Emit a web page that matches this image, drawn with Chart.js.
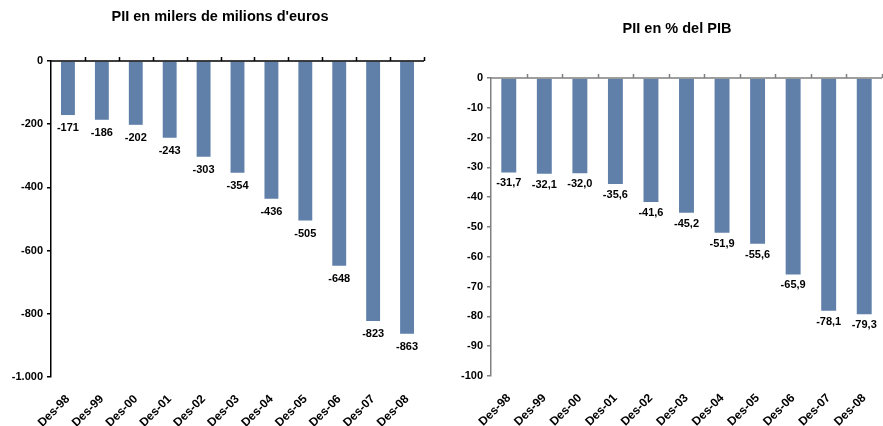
<!DOCTYPE html>
<html>
<head>
<meta charset="utf-8">
<script src="https://cdn.jsdelivr.net/npm/chart.js@4/dist/chart.umd.min.js"></script>
<style>
  body { margin: 0; background: #fff; }
  .box { position: absolute; top: 0; height: 426px; }
  #left { left: 0; width: 440px; }
  #right { left: 440px; width: 443px; }
</style>
</head>
<body>
<div class="box" id="left"><canvas id="c1" width="440" height="426"></canvas></div>
<div class="box" id="right"><canvas id="c2" width="443" height="426"></canvas></div>
<script>
const categories = ['Des-98', 'Des-99', 'Des-00', 'Des-01', 'Des-02', 'Des-03', 'Des-04', 'Des-05', 'Des-06', 'Des-07', 'Des-08'];
const piiMilers = [-171, -186, -202, -243, -303, -354, -436, -505, -648, -823, -863];
const piiPercent = [-31.7, -32.1, -32.0, -35.6, -41.6, -45.2, -51.9, -55.6, -65.9, -78.1, -79.3];
const leftTicks = { min: -1000, max: 0, step: 200 };
const rightTicks = { min: -100, max: 0, step: 10 };

const FONT = '"Liberation Sans", Arial, sans-serif';
const BAR = '#6080aa';

function fmtThousands(v) {
  const s = Math.abs(v).toString().replace(/\B(?=(\d{3})+(?!\d))/g, '.');
  return (v < 0 ? '-' : '') + s;
}

// linia del zero amb marques cap amunt, etiquetes de valor i títol
const extras = {
  id: 'extras',
  afterDatasetsDraw(chart, args, opts) {
    const ctx = chart.ctx;
    const x = chart.scales.x, y = chart.scales.y;
    const y0 = y.getPixelForValue(0);
    const w = (x.right - x.left) / categories.length;
    ctx.save();
    ctx.strokeStyle = opts.axisColor;
    ctx.lineWidth = 1.5;
    ctx.beginPath();
    ctx.moveTo(x.left, y0);
    ctx.lineTo(x.right, y0);
    for (let i = 1; i <= categories.length; i++) {
      const px = Math.round(x.getPixelForValue(i - 1) + w / 2) + 0.5;
      ctx.moveTo(px, y0);
      ctx.lineTo(px, y0 - 4);
    }
    ctx.stroke();

    ctx.fillStyle = '#000';
    ctx.font = 'bold 11px ' + FONT;
    ctx.textAlign = 'center';
    ctx.textBaseline = 'middle';
    const meta = chart.getDatasetMeta(0);
    meta.data.forEach((bar, i) => {
      ctx.fillText(opts.fmt(chart.data.datasets[0].data[i]), bar.x, bar.y + opts.labelOffset);
    });

    ctx.font = 'bold 14.5px ' + FONT;
    ctx.fillText(opts.title, opts.titleX, opts.titleY);
    ctx.restore();
  }
};

function makeChart(id, data, ticks, cfg) {
  return new Chart(document.getElementById(id), {
    type: 'bar',
    data: {
      labels: categories,
      datasets: [{
        data: data,
        backgroundColor: BAR,
        barPercentage: cfg.barPct,
        categoryPercentage: 1
      }]
    },
    options: {
      responsive: false,
      animation: false,
      events: [],
      layout: { padding: { left: 0, right: cfg.padRight, top: cfg.top, bottom: 0 } },
      plugins: {
        legend: { display: false },
        tooltip: { enabled: false },
        extras: {
          axisColor: cfg.axisColor,
          fmt: cfg.fmt,
          labelOffset: cfg.labelOffset,
          title: cfg.title,
          titleX: cfg.titleX,
          titleY: cfg.titleY
        }
      },
      scales: {
        x: {
          grid: { display: false },
          border: { display: false },
          ticks: {
            color: '#000',
            font: { family: FONT, size: 12, weight: 'bold' },
            minRotation: 45,
            maxRotation: 45,
            padding: cfg.xPad
          },
          afterFit(s) { s.height = cfg.bottom; }
        },
        y: {
          min: ticks.min,
          max: ticks.max,
          grid: { drawOnChartArea: false, color: cfg.axisColor, tickLength: 4, lineWidth: 1.5 },
          border: { color: cfg.axisColor, width: 1.5 },
          ticks: {
            stepSize: ticks.step,
            color: '#000',
            padding: 4,
            font: { family: FONT, size: 11, weight: 'bold' },
            callback: v => fmtThousands(v)
          },
          afterFit(s) { s.width = cfg.axisX; }
        }
      }
    },
    plugins: [extras]
  });
}

makeChart('c1', piiMilers, leftTicks, {
  barPct: 0.41, padRight: 16, top: 61, bottom: 49, axisX: 51, xPad: 7,
  axisColor: '#000', labelOffset: 13,
  fmt: v => fmtThousands(v),
  title: "PII en milers de milions d'euros", titleX: 220, titleY: 17
});

makeChart('c2', piiPercent, rightTicks, {
  barPct: 0.42, padRight: 1, top: 78, bottom: 50, axisX: 51, xPad: 7,
  axisColor: '#808080', labelOffset: 11,
  fmt: v => v.toFixed(1).replace('.', ','),
  title: 'PII en % del PIB', titleX: 237, titleY: 29
});
</script>
</body>
</html>
